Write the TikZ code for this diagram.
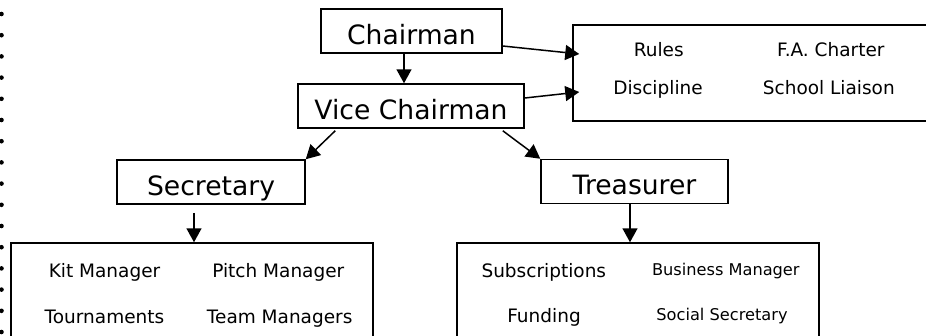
\documentclass[tikz,border=0pt]{standalone}
\usepackage{fontspec}
\setmainfont{DejaVu Sans}
\usetikzlibrary{arrows.meta}
\begin{document}
\begin{tikzpicture}[x=1pt,y=-1pt,
  box/.style={draw, line width=1.5pt, inner sep=0pt},
  title/.style={box, font=\fontsize{26.6}{30}\selectfont, text height=35pt, text depth=9pt},
  item/.style={anchor=base, inner sep=0pt, font=\fontsize{18.5}{21}\selectfont},
  small/.style={item, font=\fontsize{16.2}{19}\selectfont},
  arr/.style={line width=1.5pt, -{Triangle[length=14pt,width=15pt]}}]
\useasboundingbox (0,0) rectangle (926,335);
\clip (0,0) rectangle (926,335);
\fill[white] (0,0) rectangle (926,335);
% left dotted edge
\foreach \k in {0,...,15} \fill[black] (1.5,{14+21.2*\k}) circle (2.3pt);
% title boxes
\node[title, minimum width=181pt] (ch) at (411.5,31) {Chairman};
\node[title, minimum width=226pt] (vc) at (411,106) {Vice Chairman};
\node[title, minimum width=188pt] (sec) at (211,182) {Secretary};
\node[title, minimum width=187pt] (tr) at (634.5,181.5) {Treasurer};
% group boxes
\node[box, minimum width=367pt, minimum height=96pt] (rb) at (756.5,73) {};
\node[box, minimum width=362pt, minimum height=104pt] (bl) at (192,295) {};
\node[box, minimum width=362pt, minimum height=104pt] (br) at (638,295) {};
% items
\node[item] (rules) at (658.7,56.7) {Rules};
\node[item] (fac) at (830.8,56.7) {F.A. Charter};
\node[item] (disc) at (658,94) {Discipline};
\node[item] (sl) at (828.8,94) {School Liaison};
\node[item] (kit) at (104.5,277.7) {Kit Manager};
\node[item] (pitch) at (278.3,277.7) {Pitch Manager};
\node[item] (tour) at (104.5,323) {Tournaments};
\node[item] (team) at (279.7,323) {Team Managers};
\node[item] (sub) at (543.8,277) {Subscriptions};
\node[small] (bus) at (725.8,275) {Business Manager};
\node[item] (fund) at (544,322.7) {Funding};
\node[small] (soc) at (722,320) {Social Secretary};
% connectors
\draw[arr] ([xshift=-7.5pt]ch.south) -- ([xshift=-7.5pt]ch.south |- vc.north);
\draw[arr] ([yshift=-15pt]ch.east) -- ([xshift=7pt,yshift=19pt]rb.west);
\draw[arr] ([yshift=8pt]vc.east) -- ([xshift=7pt,yshift=-19pt]rb.west);
\draw[arr] ([xshift=38pt,yshift=-2pt]vc.south west) -- (sec.north east);
\draw[arr] ([xshift=-22pt,yshift=-2pt]vc.south east) -- (tr.north west);
\draw[arr] ([xshift=-17pt,yshift=-8pt]sec.south) -- ([xshift=-17pt]sec.south |- bl.north);
\draw[arr] ([xshift=-4.5pt]tr.south) -- ([xshift=-4.5pt]tr.south |- br.north);
\end{tikzpicture}
\end{document}
